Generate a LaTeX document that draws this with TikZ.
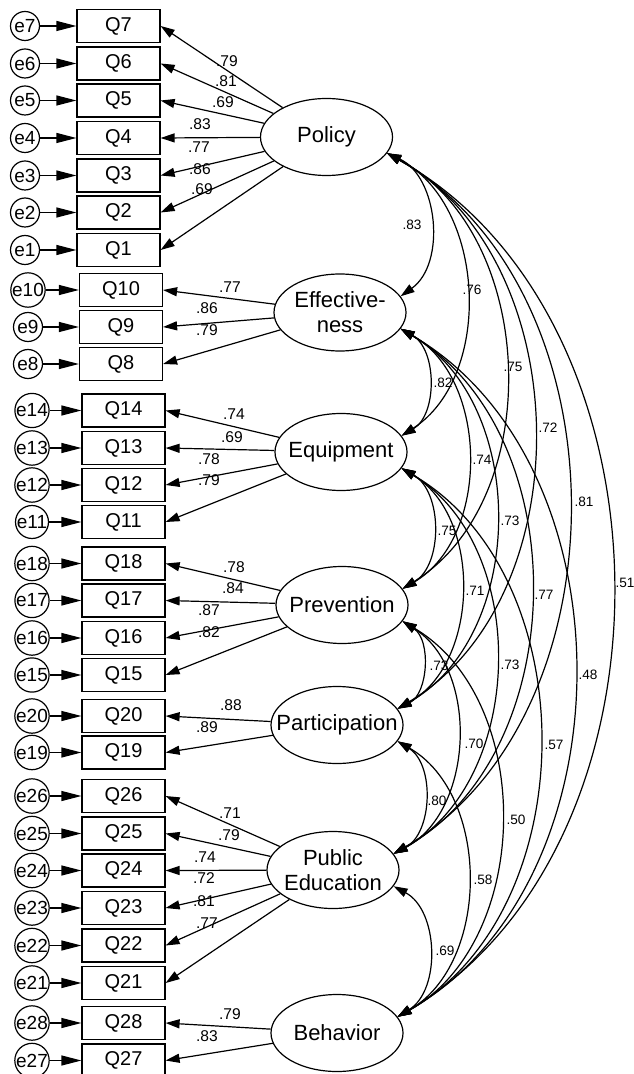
\documentclass[tikz,border=0pt]{standalone}
\usepackage{fontspec}
\setmainfont{Liberation Sans}
\usetikzlibrary{arrows.meta,shapes.geometric}

\begin{document}
\begin{tikzpicture}[x=0.5pt,y=-0.5pt,line width=0.6pt,
  qbox/.style={draw,minimum width=41.5pt,minimum height=16.5pt,inner sep=0pt,font=\fontsize{10}{12}\selectfont},
  errc/.style={draw,circle,minimum size=14.5pt,inner sep=0pt,font=\fontsize{9.5}{11}\selectfont},
  latent/.style={draw,ellipse,minimum width=66pt,minimum height=38.5pt,inner xsep=-10pt,inner ysep=0pt,
    align=center,font=\fontsize{11}{12.5}\selectfont},
  errar/.style={-{Triangle[length=10pt,width=5pt]}},
  loadar/.style={-{Triangle[length=7pt,width=4.5pt]}},
  covar/.style={{Triangle[length=7pt,width=4.5pt]}-{Triangle[length=7pt,width=4.5pt]},bend left=60},
  wlab/.style={font=\fontsize{7.8}{9}\selectfont,inner sep=0pt},
  clab/.style={font=\fontsize{6.8}{8}\selectfont,inner sep=0pt}]
\useasboundingbox (0,0) rectangle (633,1074);
% latent factors
\node[latent](Policy) at (326.5,137) {Policy};
\node[latent](Effect) at (340,312.5) {Effective-\\ness};
\node[latent](Equip) at (341,452) {Equipment};
\node[latent](Prevent) at (342,605) {Prevention};
\node[latent](Partic) at (337,725) {Participation};
\node[latent](PubEdu) at (333,870) {Public\\Education};
\node[latent](Behav) at (337,1033) {Behavior};
% indicators with their error terms
\foreach \i/\x/\ex/\y in {7/118.5/25/26,6/118.5/25/63.5,5/118.5/25/100.5,4/118.5/25/138,
    3/118.5/25/175.5,2/118.5/25/212.5,1/118.5/25/250,
    10/121/28/290,9/121/28/327,8/121/28/364,
    14/123.5/32/410.5,13/123.5/32/448,12/123.5/32/485,11/123.5/32/522,
    18/123.5/32/563.5,17/123.5/32/600.5,16/123.5/32/638,15/123.5/32/675,
    20/123.5/32/716,19/123.5/32/752.5,
    26/123.5/32/796,25/123.5/32/833.5,24/123.5/32/870.5,23/123.5/32/908,22/123.5/32/945.5,21/123.5/32/983,
    28/123.5/32/1023,27/123.5/32/1060.5}{
  \node[qbox](Q\i) at (\x,\y) {Q\i};
  \node[errc](e\i) at (\ex,\y) {e\i};
  \draw[errar](e\i)--(Q\i);
}
% loadings
\foreach \f/\i/\v/\lx/\ly in {Policy/7/.79/227/61,Policy/6/.81/226/81,Policy/5/.69/223/102,Policy/4/.83/200/124,
    Policy/3/.77/199/147,Policy/2/.86/200/169,Policy/1/.69/202/189,
    Effect/10/.77/230/287,Effect/9/.86/207/308,Effect/8/.79/207/330,
    Equip/14/.74/234/414,Equip/13/.69/232/437,Equip/12/.78/209/459,Equip/11/.79/209/480,
    Prevent/18/.78/234/567,Prevent/17/.84/233/588,Prevent/16/.87/209/610,Prevent/15/.82/209/632,
    Partic/20/.88/231/705,Partic/19/.89/207/727,
    PubEdu/26/.71/230/813,PubEdu/25/.79/229/835,PubEdu/24/.74/205/857,PubEdu/23/.72/204/878,
    PubEdu/22/.81/204/901,PubEdu/21/.77/207/923,
    Behav/28/.79/230/1014,Behav/27/.83/207/1036}{
  \draw[loadar](\f)--(Q\i.east);
  \node[wlab](w\i) at (\lx,\ly) {\v};
}
% correlations between factors
\foreach \a/\b/\v/\lx/\ly in {Policy/Effect/.83/412/225,Policy/Equip/.76/472/290,Policy/Prevent/.75/513/367,
    Policy/Partic/.72/548/428,Policy/PubEdu/.81/584/502,Policy/Behav/.51/625/583,
    Effect/Equip/.82/443/383,Effect/Prevent/.74/482/460,Effect/Partic/.73/510/521,
    Effect/PubEdu/.77/544/595,Effect/Behav/.48/588/675,
    Equip/Prevent/.75/447/531,Equip/Partic/.71/475/591,Equip/PubEdu/.73/510/665,Equip/Behav/.57/554/745,
    Prevent/Partic/.73/439/666,Prevent/PubEdu/.70/474/744,Prevent/Behav/.50/516/820,
    Partic/PubEdu/.80/437/801,Partic/Behav/.58/483/880,
    PubEdu/Behav/.69/445/951}{
  \draw[covar](\a.-15) to (\b.15);
  \node[clab](c\a\b) at (\lx,\ly) {\v};
}
\end{tikzpicture}
\end{document}
